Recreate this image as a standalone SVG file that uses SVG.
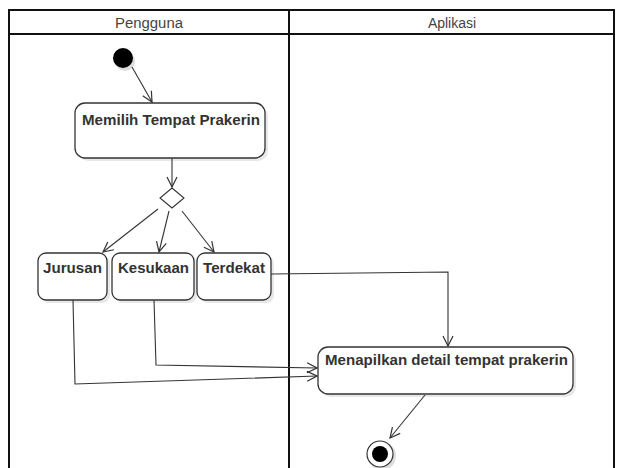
<svg xmlns="http://www.w3.org/2000/svg" width="617" height="468" viewBox="0 0 617 468">
<style>
.lane{fill:none;stroke:#111;stroke-width:2}
.hdr{font-family:"Liberation Sans",Arial,sans-serif;font-size:14px;fill:#444;text-anchor:middle}
.box{fill:#fff;stroke:#333;stroke-width:1.3}
.shadow{fill:#e8e8e8}
.lbl{font-family:"Liberation Sans",Arial,sans-serif;font-size:15px;font-weight:bold;fill:#333;text-anchor:middle}
.edge{fill:none;stroke:#333;stroke-width:1.1;marker-end:url(#arr)}
</style>
<defs>
<marker id="arr" viewBox="0 0 12 12" refX="11" refY="6" markerWidth="12" markerHeight="12" markerUnits="userSpaceOnUse" orient="auto">
<path d="M1,1 L11,6 L1,11" fill="none" stroke="#333" stroke-width="1.2"/>
</marker>
</defs>
<rect width="617" height="468" fill="#fff"/>
<g id="swimlanes">
<rect class="lane" x="9" y="10" width="605" height="470"/>
<line class="lane" x1="9" y1="34" x2="614" y2="34"/>
<line class="lane" x1="289" y1="10" x2="289" y2="468"/>
<text class="hdr" x="149" y="28" textLength="68" lengthAdjust="spacingAndGlyphs">Pengguna</text>
<text class="hdr" x="452" y="28">Aplikasi</text>
</g>
<g id="start">
<circle cx="125" cy="61" r="10" fill="#ddd"/>
<circle cx="123" cy="58" r="10" fill="#000"/>
</g>
<g id="memilih">
<rect class="shadow" x="78" y="106" width="190" height="55" rx="10"/>
<rect class="box" x="75" y="103" width="190" height="55" rx="10"/>
<text class="lbl" x="171" y="125" textLength="178" lengthAdjust="spacingAndGlyphs">Memilih Tempat Prakerin</text>
</g>
<g id="decision">
<polygon points="172,188 184,198 172,208 160,198" fill="#fff" stroke="#333" stroke-width="1.1"/>
</g>
<g id="jurusan">
<rect class="shadow" x="41" y="256" width="69" height="47" rx="8"/>
<rect class="box" x="38" y="253" width="69" height="47" rx="8"/>
<text class="lbl" x="72.5" y="273" textLength="59" lengthAdjust="spacingAndGlyphs">Jurusan</text>
</g>
<g id="kesukaan">
<rect class="shadow" x="115" y="256" width="82" height="47" rx="8"/>
<rect class="box" x="112" y="253" width="82" height="47" rx="8"/>
<text class="lbl" x="153.5" y="273" textLength="71" lengthAdjust="spacingAndGlyphs">Kesukaan</text>
</g>
<g id="terdekat">
<rect class="shadow" x="200" y="256" width="74" height="47" rx="8"/>
<rect class="box" x="197" y="253" width="74" height="47" rx="8"/>
<text class="lbl" x="234" y="273" textLength="62" lengthAdjust="spacingAndGlyphs">Terdekat</text>
</g>
<g id="menapilkan">
<rect class="shadow" x="321" y="350" width="255" height="47" rx="10"/>
<rect class="box" x="318" y="347" width="255" height="47" rx="10"/>
<text class="lbl" x="446.5" y="365" textLength="243" lengthAdjust="spacingAndGlyphs">Menapilkan detail tempat prakerin</text>
</g>
<g id="end">
<circle cx="382" cy="456" r="14" fill="#ddd"/>
<circle cx="380" cy="454" r="13" fill="#fff" stroke="#333" stroke-width="1.2"/>
<circle cx="380" cy="454" r="8" fill="#000"/>
</g>
<g id="connectors">
<line class="edge" x1="132" y1="67" x2="152" y2="102"/>
<line class="edge" x1="172" y1="158" x2="172" y2="187"/>
<line class="edge" x1="158" y1="209" x2="103" y2="252"/>
<line class="edge" x1="169" y1="211" x2="159" y2="252"/>
<line class="edge" x1="182" y1="211" x2="214" y2="252"/>
<polyline class="edge" points="271,274 448,272 448,346"/>
<polyline class="edge" points="154,300 156,365 317,368"/>
<polyline class="edge" points="73,300 75,384 317,376"/>
<line class="edge" x1="425" y1="395" x2="390" y2="438"/>
</g>
</svg>
